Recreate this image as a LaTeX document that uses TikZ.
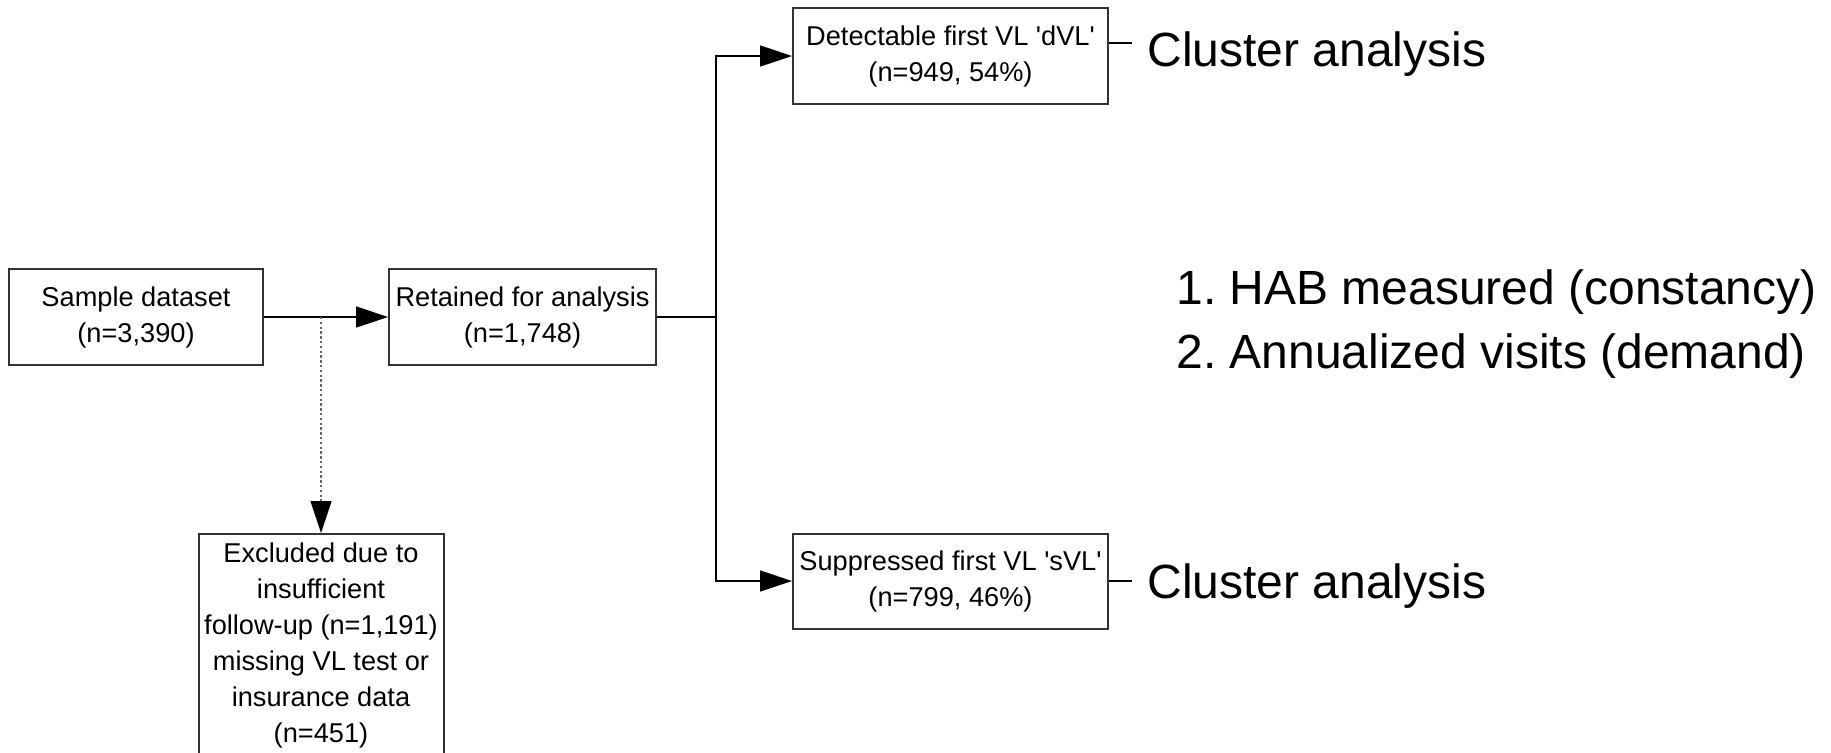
\documentclass[tikz,border=0pt]{standalone}
\usepackage{fontspec}
\setmainfont{Liberation Sans}
\usetikzlibrary{arrows.meta,calc}
\newcommand{\myboxfont}{\fontsize{13.6pt}{18pt}\selectfont}
\newcommand{\mybigfont}{\fontsize{24pt}{32pt}\selectfont}
\frenchspacing
\begin{document}
\begin{tikzpicture}[x=0.5pt,y=-0.5pt,
  box/.style={draw=black!80, line width=1pt, fill=white, align=center, font=\myboxfont, inner sep=0pt},
  conn/.style={line width=0.8pt, draw=black},
  tip/.style={-{Triangle[length=16pt,width=10.5pt,color=black]}},
  dotline/.style={line width=0.6pt, draw=black!60, dash pattern=on 1.2pt off 1.2pt},
  big/.style={font=\mybigfont, inner ysep=0pt, inner xsep=7.5pt}
]
\fill[white] (0,0) rectangle (1831,752);
\useasboundingbox (0,0) rectangle (1831,752);

\node[box, minimum width=127pt, minimum height=48pt] (sample) at (136,317) {Sample dataset\\(n=3,390)};
\node[box, minimum width=133.5pt, minimum height=48pt] (retained) at (522.5,317) {Retained for analysis\\(n=1,748)};
\node[box, minimum width=157.5pt, minimum height=48pt] (det) at (950.5,56) {Detectable first VL \textquotesingle dVL\textquotesingle\\(n=949, 54\%)};
\node[box, minimum width=157.5pt, minimum height=47.5pt] (sup) at (950.5,581) {Suppressed first VL \textquotesingle sVL\textquotesingle\\(n=799, 46\%)};
\node[box, anchor=north, minimum width=122.5pt, inner ysep=4.4pt] (excl) at (321,533)
  {Excluded due to\\insufficient\\follow-up (n=1,191)\\missing VL test or\\insurance data\\(n=451)\rule[-14pt]{0pt}{14pt}};

\coordinate (split) at (321,317);
\coordinate (branch) at (716,317);

\draw[conn, tip] (sample.east) -- (retained.west);
\draw[dotline, tip] (split) -- (excl.north);
\draw[conn] (retained.east) -- (branch);
\draw[conn, tip] (branch) |- (det.west);
\draw[conn, tip] (branch) |- (sup.west);

\node[big, anchor=base west] (ca1) at (1132,66) {Cluster analysis};
\node[big, anchor=base west] (ca2) at (1132,598) {Cluster analysis};
\coordinate (d1) at ([yshift=6.5pt]det.east);
\draw[conn] (d1) -- (d1 -| ca1.west);
\draw[conn] (sup.east) -- (sup.east -| ca2.west);

\node[font=\mybigfont, align=left, anchor=base west, inner sep=0pt] (list) at (1176,368)
  {1. HAB measured (constancy)\\2. Annualized visits (demand)};
\end{tikzpicture}
\end{document}
